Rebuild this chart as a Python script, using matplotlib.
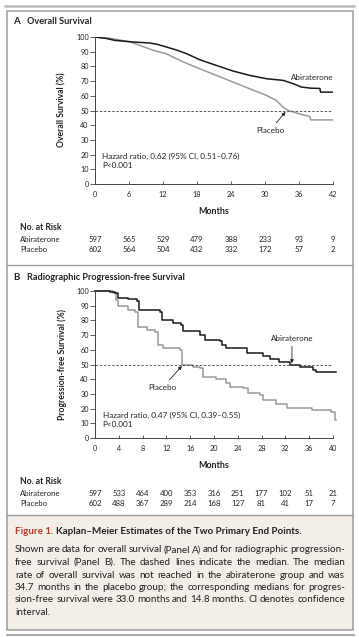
import matplotlib
matplotlib.use('Agg')
import matplotlib.pyplot as plt
from matplotlib.patches import Rectangle
from matplotlib.lines import Line2D
from matplotlib.transforms import blended_transform_factory

plt.rcParams['font.family'] = ['Lato', 'DejaVu Sans']

W, H = 359, 637

# ---- Panel A data (overall survival) ----
months_a_abi = [0, 2, 3.5, 5, 6.8, 9.7, 11, 12.6, 14.5, 16.2, 18.5, 21.4, 24.4, 27.3,
                30.3, 33.2, 35, 36.4, 38, 39.7, 39.8, 42]
surv_a_abi = [100, 99, 97.7, 97.2, 96.6, 95.9, 95, 93.2, 91, 88.6, 84.5, 80.7, 76.8, 73.9,
              71.6, 70.5, 68.2, 66, 65.2, 65, 62.5, 62.5]
months_a_pla = [0, 2, 3.5, 6.2, 7.9, 10.3, 12.6, 15.6, 18.5, 21.4, 24.4, 27.3, 30.3, 32,
                33.2, 34.1, 36.1, 37.9, 38.1, 42]
surv_a_pla = [100, 99.4, 98.6, 96.6, 94.3, 90.9, 88.6, 83, 78.4, 73.9, 69.3, 64.8, 60.2, 56.8,
              52.3, 50, 47.7, 45.9, 43.6, 43.6]
ticks_a = [0, 6, 12, 18, 24, 30, 36, 42]
risk_a_abi = [597, 565, 529, 479, 388, 233, 93, 9]
risk_a_pla = [602, 564, 504, 432, 332, 172, 57, 2]

# ---- Panel B data (radiographic progression-free survival) ----
months_b_abi = [0, 2.5, 3.4, 3.9, 5.6, 7.0, 7.4, 10.9, 11.2, 13.1, 14.5, 14.8, 17.6, 18.5, 21,
                21.3, 22.1, 25.5, 28.3, 29.4, 31, 32.7, 34.4, 36.6, 37.2, 40.5]
surv_b_abi = [100, 99.5, 98.4, 95, 94.6, 93.4, 87, 86, 80, 78, 77, 72.5, 70, 67, 66,
              63.5, 61, 57.8, 56, 53.5, 52, 50, 48.5, 46.5, 45, 45]
months_b_pla = [0, 3.1, 3.5, 3.9, 5.6, 6.7, 7.3, 8.7, 10, 10.6, 11.5, 14.3, 14.7, 16.5, 17.6,
                18.2, 20.4, 22.1, 22.7, 24.9, 25.7, 27.7, 28.3, 30.5, 32.2, 36.4, 39.7, 40.4, 40.5]
surv_b_pla = [100, 98.4, 94, 89.5, 87, 86, 75.5, 73.5, 72.3, 63, 61, 60, 49.7, 48.5, 47.4,
              41.7, 40, 37.2, 35, 33.8, 30.5, 29.3, 26, 23.2, 20.2, 19, 18, 12, 12]
ticks_b = [0, 4, 8, 12, 16, 20, 24, 28, 32, 36, 40]
risk_b_abi = [597, 533, 464, 400, 353, 316, 251, 177, 102, 51, 21]
risk_b_pla = [602, 488, 367, 289, 214, 168, 127, 81, 41, 17, 7]

caption_lines = [
    "Shown are data for overall survival (Panel A) and for radiographic progression-",
    "free survival (Panel B). The dashed lines indicate the median. The median",
    "rate of overall survival was not reached in the abiraterone group and was",
    "34.7 months in the placebo group; the corresponding medians for progres-",
    "sion-free survival were 33.0 months and 14.8 months. CI denotes confidence",
    "interval.",
]

BLACK = '#1a1a1a'
GRAY = '#9a9a9a'
TXT = '#222222'


def fx(x):
    return x / W


def fy(y):
    return 1 - y / H


fig = plt.figure(figsize=(W / 100, H / 100), dpi=100)
fig.patch.set_facecolor('white')

# frames
fig.add_artist(Line2D([fx(5), fx(354)], [fy(6), fy(6)], color='#bbbbbb', lw=1.8))
fig.add_artist(Rectangle((fx(7), fy(630)), fx(346), (630 - 515) / H,
                         transform=fig.transFigure, facecolor='#f4eee8', edgecolor='none'))
fig.add_artist(Rectangle((fx(7), fy(630)), fx(346), (630 - 11) / H, transform=fig.transFigure,
                         facecolor='none', edgecolor='#9c9c9c', lw=1.1))
fig.add_artist(Line2D([fx(7), fx(353)], [fy(265), fy(265)], color='#9c9c9c', lw=1.0))
fig.add_artist(Line2D([fx(7), fx(353)], [fy(515), fy(515)], color='#9c9c9c', lw=1.0))
fig.add_artist(Line2D([fx(7), fx(354)], [fy(634.5), fy(634.5)], color='#aaaaaa', lw=1.4))


def km_panel(top, bottom, xmax, ticks, abi_m, abi_s, pla_m, pla_s, step):
    ax = fig.add_axes([fx(95), fy(bottom), (333 - 95) / W, (bottom - top) / H])
    if step:
        ax.step(pla_m, pla_s, where='post', color=GRAY, lw=1.1, clip_on=False)
        ax.step(abi_m, abi_s, where='post', color=BLACK, lw=1.1, clip_on=False)
    else:
        ax.plot(pla_m, pla_s, color=GRAY, lw=1.1)
        ax.plot(abi_m, abi_s, color=BLACK, lw=1.1)
    ax.axhline(50, color='#444444', lw=0.6, ls=(0, (3, 2)))
    ax.set_xlim(0, xmax)
    ax.set_ylim(0, 100)
    ax.set_xticks(ticks)
    ax.set_yticks(range(0, 101, 10))
    for s in ['top', 'right']:
        ax.spines[s].set_visible(False)
    for s in ['left', 'bottom']:
        ax.spines[s].set_color('#444444')
        ax.spines[s].set_linewidth(0.7)
    ax.tick_params(axis='y', direction='out', length=3.5, width=0.6, pad=1,
                   labelsize=5.2, colors='#444444', labelcolor=TXT)
    ax.tick_params(axis='x', direction='in', length=2.5, width=0.6, pad=5,
                   labelsize=5.2, colors='#444444', labelcolor=TXT)
    ax.patch.set_alpha(0)
    return ax


def risk_table(ax, y0, ticks, abi, pla):
    tr = blended_transform_factory(ax.transData, fig.transFigure)
    fig.text(fx(20), fy(y0), 'No. at Risk', fontsize=6.2, fontweight='bold', va='center', color=TXT)
    fig.text(fx(20), fy(y0 + 11), 'Abiraterone', fontsize=5.6, va='center', color=TXT)
    fig.text(fx(20), fy(y0 + 21), 'Placebo', fontsize=5.6, va='center', color=TXT)
    for t, a, p in zip(ticks, abi, pla):
        ax.text(t, fy(y0 + 11), str(a), transform=tr, fontsize=5.6, ha='center', va='center', color=TXT)
        ax.text(t, fy(y0 + 21), str(p), transform=tr, fontsize=5.6, ha='center', va='center', color=TXT)


# ---- Panel A ----
fig.text(fx(13), fy(22), 'A', fontsize=7, fontweight='bold', va='center', color=TXT)
fig.text(fx(27), fy(22), 'Overall Survival', fontsize=6.6, fontweight='bold', va='center', color=TXT)
axA = km_panel(37, 184, 42, ticks_a, months_a_abi, surv_a_abi, months_a_pla, surv_a_pla, False)
fig.text(fx(62), fy(110), 'Overall Survival (%)', rotation=90, fontsize=6.2, fontweight='bold',
         ha='center', va='center', color=TXT)
fig.text(fx(214), fy(211), 'Months', fontsize=6.4, fontweight='bold', ha='center', va='center', color=TXT)
axA.text(38.3, 72.5, 'Abiraterone', fontsize=5.8, ha='center', va='center', color=TXT)
axA.annotate('Placebo', xy=(33.6, 49.0), xytext=(30.9, 36.5), fontsize=5.8, ha='center', va='center',
             color=TXT, arrowprops=dict(arrowstyle='-|>', lw=0.6, color='#222222', mutation_scale=5,
                                        shrinkA=1, shrinkB=0))
axA.text(1.3, 15.5, 'Hazard ratio, 0.62 (95% CI, 0.51\u20130.76)\nP<0.001', fontsize=5.9,
         va='center', ha='left', color=TXT, linespacing=1.35)
risk_table(axA, 228, ticks_a, risk_a_abi, risk_a_pla)

# ---- Panel B ----
fig.text(fx(13), fy(277), 'B', fontsize=7, fontweight='bold', va='center', color=TXT)
fig.text(fx(27), fy(277), 'Radiographic Progression-free Survival', fontsize=6.6, fontweight='bold',
         va='center', color=TXT)
axB = km_panel(291, 438, 40, ticks_b, months_b_abi, surv_b_abi, months_b_pla, surv_b_pla, True)
fig.text(fx(62), fy(364), 'Progression-free Survival (%)', rotation=90, fontsize=6.2, fontweight='bold',
         ha='center', va='center', color=TXT)
fig.text(fx(214), fy(465), 'Months', fontsize=6.4, fontweight='bold', ha='center', va='center', color=TXT)
axB.annotate('Abiraterone', xy=(33.1, 50.8), xytext=(33.1, 67.5), fontsize=5.8, ha='center', va='center',
             color=TXT, arrowprops=dict(arrowstyle='-|>', lw=0.6, color='#222222', mutation_scale=5,
                                        shrinkA=1, shrinkB=0))
axB.annotate('Placebo', xy=(14.6, 49.0), xytext=(11.4, 34.5), fontsize=5.8, ha='center', va='center',
             color=TXT, arrowprops=dict(arrowstyle='-|>', lw=0.6, color='#222222', mutation_scale=5,
                                        shrinkA=1, shrinkB=0))
axB.text(1.3, 12.5, 'Hazard ratio, 0.47 (95% CI, 0.39\u20130.55)\nP<0.001', fontsize=5.9,
         va='center', ha='left', color=TXT, linespacing=1.35)
risk_table(axB, 482, ticks_b, risk_b_abi, risk_b_pla)

# ---- caption ----
renderer = fig.canvas.get_renderer()
t1 = fig.text(fx(15), fy(531), 'Figure 1.', fontsize=7.1, fontweight='bold', color='#b8382c', va='center')
bb = t1.get_window_extent(renderer)
fig.text(bb.x1 / W + fx(3), fy(531), 'Kaplan\u2013Meier Estimates of the Two Primary End Points.',
         fontsize=7.1, fontweight='bold', color=TXT, va='center')

left, right = 15, 345
cap_fs = 7.1
for i, line in enumerate(caption_lines):
    y = fy(550 + i * 12.5)
    words = line.split(' ')
    if i == len(caption_lines) - 1:
        fig.text(fx(left), y, line, fontsize=cap_fs, color=TXT, va='center')
        continue
    widths = []
    arts = []
    for w in words:
        t = fig.text(0, y, w, fontsize=cap_fs, color=TXT, va='center')
        arts.append(t)
        widths.append(t.get_window_extent(renderer).width)
    gap = (right - left - sum(widths)) / (len(words) - 1)
    x = left
    for t, wd in zip(arts, widths):
        t.set_x(fx(x))
        x += wd + gap

fig.savefig('out.png', dpi=100)
